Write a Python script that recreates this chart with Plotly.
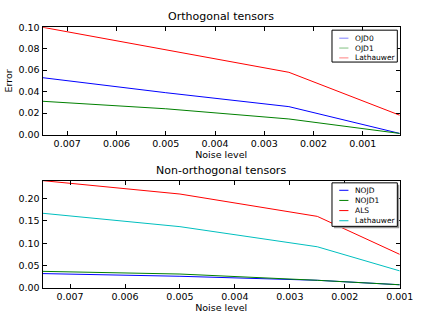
import plotly.graph_objects as go

# noise levels
noise_orth = [0.0075, 0.005, 0.0025, 0.00025]
noise_nonorth = [0.0075, 0.005, 0.0025, 0.001]

# orthogonal tensors
ojd0 = [0.053, 0.039, 0.026, 0.001]
ojd1 = [0.031, 0.024, 0.0145, 0.001]
lathauwer_orth = [0.100, 0.079, 0.058, 0.018]

# non-orthogonal tensors
nojd = [0.032, 0.026, 0.017, 0.007]
nojd1 = [0.037, 0.031, 0.017, 0.007]
als = [0.240, 0.210, 0.160, 0.075]
lathauwer_nonorth = [0.167, 0.137, 0.092, 0.038]

W, H = 436, 327

top = [("OJD0", ojd0, "#0000ff", "#8080ff"),
       ("OJD1", ojd1, "#008000", "#80c080"),
       ("Lathauwer", lathauwer_orth, "#ff0000", "#ff8080")]
bottom = [("NOJD", nojd, "#0000ff", "#0000ff"),
          ("NOJD1", nojd1, "#008000", "#008000"),
          ("ALS", als, "#ff0000", "#ff0000"),
          ("Lathauwer", lathauwer_nonorth, "#00bfbf", "#00bfbf")]

fig = go.Figure()
for name, vals, col, _ in top:
    fig.add_trace(go.Scatter(x=noise_orth, y=vals, name=name, mode="lines",
                             line=dict(color=col, width=1), xaxis="x", yaxis="y"))
for name, vals, col, _ in bottom:
    fig.add_trace(go.Scatter(x=noise_nonorth, y=vals, name=name, mode="lines",
                             line=dict(color=col, width=1), xaxis="x2", yaxis="y2"))

# matplotlib-like legend boxes, built by hand (plotly legend rows are too tall)
shapes = []
annotations = []


def px_x(v):
    return v / W


def px_y(v):
    return 1 - v / H


def add_legend(entries, top_px, bottom_px, first_row, step, shadow):
    if shadow:
        shapes.append(dict(type="rect", xref="paper", yref="paper",
                           x0=px_x(345), x1=px_x(412.5), y0=px_y(bottom_px + 2), y1=px_y(top_px + 2),
                           line=dict(width=0), fillcolor="#999999", layer="above"))
    shapes.append(dict(type="rect", xref="paper", yref="paper",
                       x0=px_x(343), x1=px_x(410.5), y0=px_y(bottom_px), y1=px_y(top_px),
                       line=dict(color="black", width=1), fillcolor="white", layer="above"))
    for i, (name, _, _, lcol) in enumerate(entries):
        yy = first_row + i * step
        shapes.append(dict(type="line", xref="paper", yref="paper",
                           x0=px_x(350.5), x1=px_x(360), y0=px_y(yy), y1=px_y(yy),
                           line=dict(color=lcol, width=1), layer="above"))
        annotations.append(dict(text=name, x=px_x(365), y=px_y(yy), xref="paper", yref="paper",
                                xanchor="left", yanchor="middle", showarrow=False,
                                font=dict(size=7.5)))


add_legend(top, 25, 58, 33.3, 10.2, False)
add_legend(bottom, 183, 228, 190.7, 10.5, True)

annotations += [
    dict(text="Orthogonal tensors", x=px_x((44 + 413) / 2), y=px_y(20), xref="paper", yref="paper",
         xanchor="center", yanchor="bottom", showarrow=False, font=dict(size=11)),
    dict(text="Non-orthogonal tensors", x=px_x((44 + 413) / 2), y=px_y(179), xref="paper", yref="paper",
         xanchor="center", yanchor="bottom", showarrow=False, font=dict(size=11)),
]

axis_style = dict(showgrid=False, zeroline=False, showline=True, linecolor="black",
                  linewidth=1, mirror="allticks", ticks="inside", ticklen=4,
                  tickcolor="black", tickfont=dict(size=9.5, color="black"))

fig.update_layout(
    width=W, height=H,
    margin=dict(l=0, r=0, t=0, b=0),
    paper_bgcolor="white", plot_bgcolor="white",
    showlegend=False,
    font=dict(family="DejaVu Sans", size=9, color="black"),
    xaxis=dict(domain=[px_x(44), px_x(413)], range=[0.0075, 0.00025], dtick=0.001,
               tick0=0, tickformat=".3f", anchor="y",
               title=dict(text="Noise level", font=dict(size=9.5), standoff=2),
               **axis_style),
    yaxis=dict(domain=[px_y(133), px_y(22)], range=[0, 0.1], dtick=0.02,
               tickformat=".2f", anchor="x",
               title=dict(text="Error", font=dict(size=9.5), standoff=4),
               **axis_style),
    xaxis2=dict(domain=[px_x(44), px_x(413)], range=[0.0075, 0.001], dtick=0.001,
                tick0=0, tickformat=".3f", anchor="y2",
                title=dict(text="Noise level", font=dict(size=9.5), standoff=2),
                **axis_style),
    yaxis2=dict(domain=[px_y(291.7), px_y(180.7)], range=[0, 0.24], dtick=0.05,
                tickformat=".2f", anchor="x2", **axis_style),
    shapes=shapes,
    annotations=annotations,
)

fig.write_html("out.html", config={"displayModeBar": False},
               post_script="document.body.style.margin='0';")
